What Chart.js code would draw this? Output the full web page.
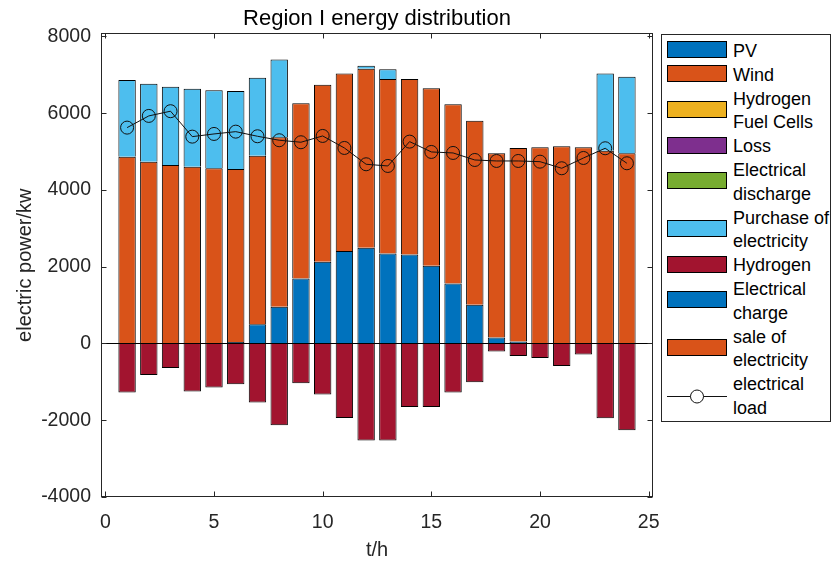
<!DOCTYPE html>
<html>
<head>
<meta charset="utf-8">
<script src="https://cdn.jsdelivr.net/npm/chart.js@4"></script>
<style>
  body { margin: 0; background: #fff; }
  #wrap { position: relative; width: 833px; height: 565px; }
  #legend {
    position: absolute; left: 661px; top: 34px; width: 168px;
    border: 1px solid #262626; background: #fff; padding: 5px 0 0 0;
    font-family: "Liberation Sans", Arial, Helvetica, sans-serif; font-size: 18px; color: #000;
  }
  .item { display: flex; align-items: center; line-height: 23.8px; }
  .sw { width: 58px; height: 15px; border: 1px solid #000; margin: 0 6px 0 5px; position: relative; top: -2px; flex: none; }
  .ln { width: 60px; height: 15px; margin: 0 6px 0 5px; position: relative; top: -2px; flex: none; }
  .txt { white-space: pre-line; }
</style>
</head>
<body>
<div id="wrap">
  <canvas id="c" width="833" height="565"></canvas>
  <div id="legend"></div>
</div>
<script>
// hours
const hours = [1,2,3,4,5,6,7,8,9,10,11,12,13,14,15,16,17,18,19,20,21,22,23,24];

// series (kw)
const pv = [0,0,0,0,0,42,504,955,1696,2129,2408,2494,2348,2322,2024,1565,1007,157,52,0,0,0,0,0];
const wind = [4868,4738,4652,4607,4566,4505,4390,4419,4565,4610,4626,4662,4547,4573,4629,4670,4800,4800,5043,5114,5140,5114,5025,4957];
const fuelCells = [0,0,0,0,0,0,0,0,0,0,0,0,0,0,0,0,0,0,0,0,0,0,0,0];
const loss = [0,0,0,0,0,0,0,0,0,0,0,0,0,0,0,0,0,0,0,0,0,0,0,0];
const discharge = [0,0,0,0,0,0,0,0,0,0,0,0,0,0,0,0,0,0,0,0,0,0,0,0];
const purchase = [2001,2027,2035,2028,2035,2035,2028,2025,0,0,0,79,253,0,0,0,0,0,0,0,0,0,2009,1991];
const hydrogen = [-1278,-819,-637,-1252,-1148,-1062,-1539,-2131,-1036,-1331,-1941,-2531,-2531,-1654,-1654,-1278,-1010,-209,-324,-376,-584,-287,-1949,-2262];
const charge = [0,0,0,0,0,0,0,0,0,0,0,0,0,0,0,0,0,0,0,0,0,0,0,0];
const sale = [0,0,0,0,0,0,0,0,0,0,0,0,0,0,0,0,0,0,0,0,0,0,0,0];
const load = [5625,5930,6053,5390,5460,5520,5400,5296,5244,5408,5095,4670,4626,5260,4991,4965,4782,4756,4756,4738,4566,4834,5087,4696];

const seriesNames = ['PV', 'Wind', 'Hydrogen\nFuel Cells', 'Loss', 'Electrical\ndischarge',
  'Purchase of\nelectricity', 'Hydrogen', 'Electrical\ncharge', 'sale of\nelectricity', 'electrical\nload'];
const xTicks = [0, 5, 10, 15, 20, 25];
const yTicks = [-4000, -2000, 0, 2000, 4000, 6000, 8000];

const FONT = '"Liberation Sans", Arial, Helvetica, sans-serif';
const colors = ['#0072BD', '#D95319', '#EDB120', '#7E2F8E', '#77AC30', '#4DBEEE', '#A2142F', '#0072BD', '#D95319'];
const barData = [pv, wind, fuelCells, loss, discharge, purchase, hydrogen, charge, sale];

const datasets = barData.map((d, i) => ({
  label: seriesNames[i],
  data: d,
  backgroundColor: colors[i],
  borderColor: '#000',
  borderWidth: 1,
  barPercentage: 0.8,
  categoryPercentage: 1,
  order: 1
}));
datasets.push({
  type: 'line',
  label: seriesNames[9],
  data: load,
  stack: 'load',
  borderColor: '#111',
  borderWidth: 1,
  pointRadius: 6.5,
  pointBorderWidth: 1,
  pointBorderColor: '#111',
  pointBackgroundColor: 'rgba(0,0,0,0)',
  tension: 0,
  order: 0
});

// box around the axes, inward ticks, zero baseline
const framePlugin = {
  id: 'frame',
  afterDatasetsDraw(chart) {
    const { ctx, chartArea: a, scales: { x, y } } = chart;
    ctx.save();
    ctx.strokeStyle = '#000';
    ctx.lineWidth = 1;
    const y0 = Math.round(y.getPixelForValue(0)) + 0.5;
    ctx.beginPath();
    ctx.moveTo(a.left, y0); ctx.lineTo(a.right, y0);
    ctx.stroke();

    ctx.strokeStyle = '#262626';
    const L = Math.round(a.left) + 0.5, R = Math.round(a.right) - 0.5;
    const T = Math.round(a.top) + 0.5, B = Math.round(a.bottom) - 0.5;
    ctx.strokeRect(L, T, R - L, B - T);
    ctx.beginPath();
    xTicks.forEach(v => {
      const px = Math.round(x.getPixelForValue(v)) + 0.5;
      ctx.moveTo(px, B); ctx.lineTo(px, B - 5);
      ctx.moveTo(px, T); ctx.lineTo(px, T + 5);
    });
    yTicks.forEach(v => {
      const py = Math.round(y.getPixelForValue(v)) + 0.5;
      ctx.moveTo(L, py); ctx.lineTo(L + 5, py);
      ctx.moveTo(R, py); ctx.lineTo(R - 5, py);
    });
    ctx.stroke();
    ctx.restore();
  }
};

const chart = new Chart(document.getElementById('c'), {
  type: 'bar',
  data: { labels: hours, datasets: datasets },
  options: {
    responsive: false,
    animation: false,
    layout: { padding: { left: 0, right: 180, top: 0, bottom: 0 } },
    plugins: {
      legend: { display: false },
      tooltip: { enabled: false },
      title: {
        display: true,
        text: 'Region I energy distribution',
        color: '#000',
        fullSize: false,
        font: { family: FONT, size: 22, weight: 'normal' },
        padding: { top: 6, bottom: 1 }
      }
    },
    scales: {
      x: {
        type: 'linear',
        min: -0.2,
        max: 25.2,
        offset: false,
        stacked: true,
        grid: { display: false, drawTicks: false },
        border: { display: false },
        afterBuildTicks: s => { s.ticks = xTicks.map(v => ({ value: v })); },
        afterFit: s => { s.height = 68; },
        ticks: { color: '#262626', font: { family: FONT, size: 19.5 }, padding: 14, maxRotation: 0, callback: v => String(v) },
        title: { display: true, text: 't/h', color: '#262626', font: { family: FONT, size: 20 }, padding: { top: 0, bottom: 3 } }
      },
      y: {
        min: -4000,
        max: 8080,
        stacked: true,
        grid: { display: false, drawTicks: false },
        border: { display: false },
        afterBuildTicks: s => { s.ticks = yTicks.map(v => ({ value: v })); },
        afterFit: s => { s.width = 101; },
        ticks: { color: '#262626', font: { family: FONT, size: 19.5 }, padding: 10, callback: v => String(v) },
        title: { display: true, text: 'electric power/kw', color: '#262626', font: { family: FONT, size: 20 }, padding: { top: 13, bottom: 0 } }
      }
    }
  },
  plugins: [framePlugin]
});

// legend built from the chart datasets
const legend = document.getElementById('legend');
chart.data.datasets.forEach(ds => {
  const item = document.createElement('div');
  item.className = 'item';
  let mark;
  if (ds.type === 'line') {
    mark = document.createElement('div');
    mark.className = 'ln';
    mark.innerHTML = '<svg width="60" height="15"><line x1="0" y1="7.5" x2="60" y2="7.5" stroke="#111" stroke-width="1"/>' +
      '<circle cx="30" cy="7.5" r="6.5" fill="#fff" stroke="#111" stroke-width="1"/></svg>';
  } else {
    mark = document.createElement('div');
    mark.className = 'sw';
    mark.style.background = ds.backgroundColor;
  }
  const t = document.createElement('div');
  t.className = 'txt';
  t.textContent = ds.label;
  item.appendChild(mark);
  item.appendChild(t);
  legend.appendChild(item);
});
</script>
</body>
</html>
